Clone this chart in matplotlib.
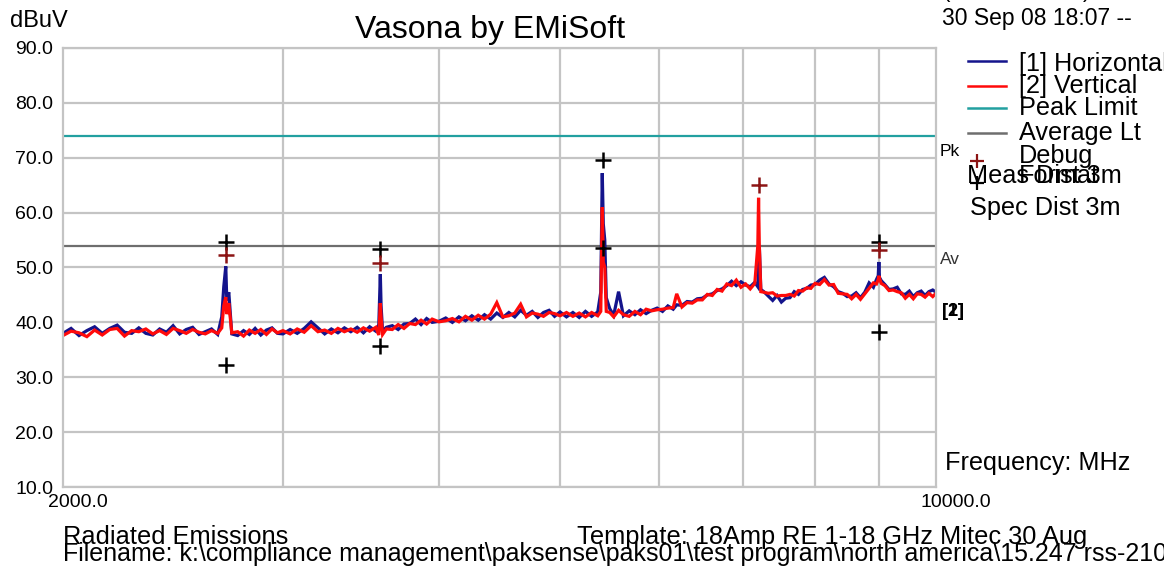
"""
Vasona by EMiSoft - radiated emissions scan, 2-10 GHz
"""

import numpy as np
import matplotlib.pyplot as plt
from matplotlib.lines import Line2D
from matplotlib.ticker import NullLocator

W, H = 1164, 571

# scan data (MHz / dBuV)
freq_mhz = [
    2000, 2030, 2060, 2090, 2120, 2150, 2180, 2210, 2240, 2270,
    2300, 2330, 2360, 2390, 2420, 2450, 2480, 2510, 2540, 2570,
    2600, 2630, 2660, 2680, 2690, 2700, 2705, 2715, 2730,
    2760, 2790, 2820, 2850, 2880, 2910, 2940, 2970,
    3000, 3040, 3080, 3120, 3160, 3200, 3240, 3280, 3320, 3360,
    3400, 3440, 3480, 3520, 3560, 3580, 3590, 3595, 3605, 3630,
    3670, 3710, 3750, 3790, 3830, 3870, 3910, 3950, 4000, 4050,
    4100, 4150, 4200, 4250, 4300, 4350, 4400, 4450, 4500, 4550,
    4600, 4650, 4700, 4750, 4800, 4850, 4900, 4950, 5000, 5060,
    5120, 5180, 5240, 5300, 5360, 5390, 5405, 5415, 5430, 5445,
    5480, 5520, 5570, 5620, 5680, 5740, 5800, 5860,
    5920, 5980, 6040, 6100, 6160, 6200, 6260, 6320, 6380,
    6440, 6500, 6560, 6620, 6680, 6740, 6800, 6860, 6920, 6980,
    7040, 7100, 7160, 7200, 7210, 7220, 7240, 7280, 7340,
    7400, 7460, 7520, 7580, 7640, 7700, 7760, 7820, 7880,
    7940, 8000, 8070, 8140, 8210, 8280, 8350, 8420, 8490,
    8560, 8630, 8700, 8770, 8840, 8910, 8960, 8990, 9000, 9010, 9040,
    9100, 9170, 9240, 9310, 9380, 9450, 9520, 9590, 9660, 9730, 9800, 9870, 9940, 10000,
]

horiz_dbuv = [
    38.0, 38.9, 37.6, 38.5, 39.2, 38.0, 38.9, 39.5, 38.2, 38.0,
    39.0, 38.0, 37.7, 38.8, 38.2, 39.4, 37.9, 38.7, 39.1, 37.8,
    38.3, 38.8, 37.8, 41.0, 46.5, 50.2, 44.0, 45.5, 37.9,
    37.6, 38.5, 37.8, 38.9, 37.7, 38.6, 39.0, 38.0,
    37.9, 38.7, 38.0, 38.9, 40.1, 39.0, 37.9, 38.8, 38.1, 39.0,
    38.3, 39.1, 38.1, 39.2, 38.4, 39.6, 48.8, 43.0, 38.4, 39.1,
    39.4, 38.7, 39.7, 39.8, 40.6, 39.6, 40.7, 40.0, 40.2, 40.8,
    40.0, 41.0, 40.3, 41.2, 40.4, 41.4, 40.6, 41.7, 40.9, 41.8,
    41.0, 42.2, 41.3, 42.0, 40.9, 41.8, 42.2, 41.1, 41.9, 41.0,
    41.8, 40.9, 42.0, 41.1, 41.9, 45.5, 67.2, 58.0, 55.0, 44.5,
    42.5, 41.3, 45.6, 41.2, 42.1, 41.4, 42.3, 41.6,
    42.2, 42.6, 42.0, 43.0, 42.4, 43.2, 43.1, 43.8, 43.7,
    44.3, 44.4, 45.0, 45.2, 45.8, 46.1, 46.7, 47.5, 46.7, 47.4,
    46.8, 46.5, 47.3, 46.5, 50.0, 54.0, 46.0, 45.6, 44.8,
    44.0, 44.9, 43.7, 44.4, 44.5, 45.6, 45.1, 46.0, 46.2,
    46.8, 46.9, 47.7, 48.2, 47.0, 46.5, 45.6, 45.3, 44.7,
    44.8, 45.4, 44.5, 45.5, 47.2, 46.4, 47.8, 48.5, 51.0, 48.2, 47.6,
    46.9, 46.0, 46.1, 46.4, 45.2, 45.1, 45.7, 44.7, 45.4, 45.7, 44.9, 45.6, 45.9, 45.5,
]

vert_dbuv = [
    37.6, 38.4, 38.1, 37.4, 38.6, 37.7, 38.7, 38.9, 37.5, 38.5,
    38.3, 38.8, 37.9, 38.5, 37.8, 38.9, 38.5, 38.0, 38.7, 38.2,
    37.9, 38.5, 38.0, 39.0, 43.0, 44.6, 41.5, 43.5, 38.1,
    38.3, 37.5, 38.6, 38.0, 38.7, 37.8, 38.8, 38.1,
    38.5, 37.9, 38.8, 38.2, 39.4, 38.3, 38.6, 38.0, 38.9, 38.3,
    38.8, 38.2, 39.0, 38.4, 39.1, 37.7, 43.5, 41.0, 37.8, 38.8,
    38.7, 39.6, 38.9, 39.8, 39.6, 40.4, 39.7, 40.6, 40.1, 40.3,
    40.7, 40.1, 41.1, 40.4, 41.3, 40.6, 41.5, 43.6, 41.0, 41.2,
    41.7, 43.3, 41.0, 41.7, 41.5, 41.1, 41.8, 41.6, 41.2, 41.8,
    41.1, 41.7, 41.0, 41.8, 41.2, 42.0, 61.0, 51.0, 50.0, 42.0,
    41.8, 41.0, 42.2, 41.4, 41.1, 42.0, 41.4, 42.4,
    42.1, 42.3, 42.4, 42.6, 42.7, 45.2, 42.8, 43.6, 43.5,
    44.1, 44.1, 45.1, 44.9, 46.0, 45.7, 47.0, 46.7, 47.7, 46.4,
    47.0, 46.1, 47.1, 54.0, 62.7, 54.0, 45.6, 45.5, 45.3,
    45.4, 44.8, 44.9, 44.9, 45.1, 44.8, 45.8, 45.7, 46.3,
    46.2, 47.1, 46.9, 47.8, 46.8, 46.9, 45.3, 45.2, 45.1,
    44.3, 45.1, 44.2, 45.2, 46.2, 47.2, 47.0, 47.8, 48.5, 48.0, 47.1,
    46.7, 45.8, 45.9, 45.6, 45.4, 44.4, 45.1, 44.3, 45.2, 45.1, 44.6, 45.3, 44.7, 45.3,
]

peak_limit = 74.0
avg_limit = 54.0

format_freq = [2700, 2700, 3590, 3590, 5410, 5410, 9000, 9000]
format_level = [54.6, 32.3, 53.3, 35.7, 69.5, 53.6, 54.6, 38.2]
debug_freq = [2700, 3590, 7210, 9000]
debug_level = [52.3, 50.8, 65.0, 53.2]

grid_freq = [3000, 4000, 5000, 6000, 7000, 8000, 9000]
y_ticks = [10, 20, 30, 40, 50, 60, 70, 80, 90]
y_tick_labels = ['10.0', '20.0', '30.0', '40.0', '50.0', '60.0', '70.0', '80.0', '90.0']
x_end_labels = ['2000.0', '10000.0']

legend_labels = ['[1] Horizontal', '[2] Vertical', 'Peak Limit', 'Average Lt', 'Debug', 'Format']

BLUE = '#14148c'
RED = '#ff0a0a'
TEAL = '#22a0a0'
AVG = '#6e6e6e'
GRID = '#c4c4c4'
DKRED = '#8c1414'

plt.rcParams['font.family'] = ['Liberation Sans', 'DejaVu Sans']


def fx(x):
    return x / W


def fy(y):
    return 1 - y / H


fig = plt.figure(figsize=(W / 100, H / 100), dpi=100)
ax = fig.add_axes([fx(63), fy(487), (936 - 63) / W, (487 - 48) / H])

ax.set_xscale('log')
ax.set_xlim(2000, 10000)
ax.set_ylim(10, 90)
ax.xaxis.set_minor_locator(NullLocator())
ax.set_xticks(grid_freq)
ax.set_xticklabels([])
ax.set_yticks(y_ticks)
ax.set_yticklabels(y_tick_labels, fontsize=14)
ax.tick_params(length=0, pad=7)
ax.grid(True, color=GRID, linewidth=1.6)
ax.set_axisbelow(True)
for s in ax.spines.values():
    s.set_color(GRID)
    s.set_linewidth(1.6)

# limits
ax.axhline(peak_limit, color=TEAL, linewidth=1.6)
ax.axhline(avg_limit, color=AVG, linewidth=1.6)

# traces
ax.plot(freq_mhz, horiz_dbuv, color=BLUE, linewidth=2.3, solid_joinstyle='miter')
ax.plot(freq_mhz, vert_dbuv, color=RED, linewidth=2.3, solid_joinstyle='miter')

# markers
ax.plot(format_freq, format_level, linestyle='none', marker='+', color='black',
        markersize=11, markeredgewidth=1.8, clip_on=False)
ax.plot(debug_freq, debug_level, linestyle='none', marker='+', color=DKRED,
        markersize=11, markeredgewidth=1.8, clip_on=False)

# x end labels
for f, lab in zip([2000, 10000], x_end_labels):
    ax.annotate(lab, xy=(f, 0), xycoords=('data', 'axes fraction'),
                xytext=(-11, -5), textcoords='offset points',
                ha='left', va='top', fontsize=14)

# labels at right edge of plot
fig.text(fx(940), fy(152), 'Pk', fontsize=12.5, va='center', ha='left')
fig.text(fx(940), fy(260), 'Av', fontsize=12.5, va='center', ha='left', color='#333333')
fig.text(fx(942), fy(312), '[1]', fontsize=13, va='center', ha='left', fontweight='bold')
fig.text(fx(942), fy(312), '[2]', fontsize=13, va='center', ha='left', fontweight='bold')

# headers
fig.text(fx(10), fy(21), 'dBuV', fontsize=17, va='center', ha='left')
fig.text(fx(490), fy(30), 'Vasona by EMiSoft', fontsize=23, va='center', ha='center')
fig.text(fx(942), fy(25), '30 Sep 08 18:07 --', fontsize=16.5, va='baseline', ha='left')
fig.text(fx(943), fy(-3), '(', fontsize=16, va='baseline', ha='left')
fig.text(fx(1083), fy(-3), ')', fontsize=16, va='baseline', ha='left')

# legend
line_rows = [(61, BLUE), (86, RED), (108, TEAL), (133, AVG)]
for y, c in line_rows:
    fig.add_artist(Line2D([fx(968), fx(1006)], [fy(y), fy(y)], color=c, linewidth=1.8))
text_rows = [64, 86, 108, 133, 156, 176]
for y, lab in zip(text_rows, legend_labels):
    fig.text(fx(1019), fy(y), lab, fontsize=18.2, va='center', ha='left')
fig.add_artist(Line2D([fx(977)], [fy(161)], marker='+', color=DKRED,
                      markersize=10, markeredgewidth=1.6))
fig.add_artist(Line2D([fx(977)], [fy(183)], marker='+', color='black',
                      markersize=10, markeredgewidth=1.6))
fig.text(fx(967), fy(176), 'Meas Dist 3m', fontsize=18.2, va='center', ha='left')
fig.text(fx(970), fy(208), 'Spec Dist 3m', fontsize=18.2, va='center', ha='left')

fig.text(fx(945), fy(463), 'Frequency: MHz', fontsize=18.2, va='center', ha='left')

# footer
fig.text(fx(63), fy(537), 'Radiated Emissions', fontsize=18.3, va='center', ha='left')
fig.text(fx(577), fy(537), 'Template: 18Amp RE 1-18 GHz Mitec 30 Aug', fontsize=18.3,
         va='center', ha='left')
fig.text(fx(63), fy(554),
         'Filename: k:\\compliance management\\paksense\\paks01\\test program\\north america\\15.247 rss-210',
         fontsize=18.0, va='center', ha='left')

fig.savefig('out.png', dpi=100)
